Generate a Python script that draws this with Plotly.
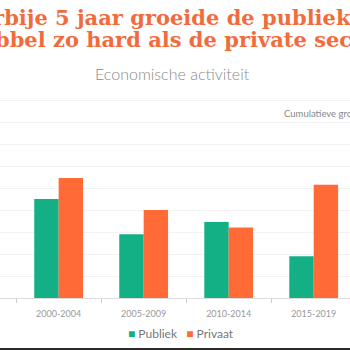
import plotly.graph_objects as go

periods = ["2000-2004", "2005-2009", "2010-2014", "2015-2019"]
publiek = [9.0, 5.8, 6.9, 3.8]
privaat = [10.9, 8.0, 6.4, 10.3]
series_names = ["Publiek", "Privaat"]

title_line1 = "De voorbije 5 jaar groeide de publieke sector"
title_line2 = "dubbel zo hard als de private sector"
subtitle = "Economische activiteit"
y_title = "Cumulatieve groei (%)"

GREEN = "#14b085"
ORANGE = "#ff6a36"
TITLE_ORANGE = "#f26b3c"

fig = go.Figure()
fig.add_trace(go.Bar(name=series_names[0], x=periods, y=publiek, marker=dict(color=GREEN, line=dict(width=0))))
fig.add_trace(go.Bar(name=series_names[1], x=periods, y=privaat, marker=dict(color=ORANGE, line=dict(width=0))))

H_PLOT = 208.0
def py(px):
    return (298 - px) / H_PLOT

legend_text = (
    f"<span style='color:{GREEN}'>■</span> {series_names[0]}"
    f"&nbsp;&nbsp;&nbsp;<span style='color:{ORANGE}'>■</span> {series_names[1]}"
)

fig.update_layout(
    width=350, height=350,
    margin=dict(l=0, r=0, t=90, b=52),
    paper_bgcolor="white", plot_bgcolor="white",
    barmode="group", bargap=0.426, bargroupgap=0,
    showlegend=False,
    xaxis=dict(type="category", range=[-0.69, 3.427], showgrid=False,
               ticks="outside", tickson="boundaries", ticklen=4, tickcolor="#cccccc",
               showline=True, linecolor="#dddddd", linewidth=1, ticklabelstandoff=7,
               tickfont=dict(family="Lato", size=9, color="#999999")),
    yaxis=dict(range=[0, H_PLOT / 11.0], dtick=2, showgrid=True, gridcolor="#f2f2f2",
               showticklabels=False, zeroline=False, fixedrange=True),
    annotations=[
        dict(text=title_line1, xref="paper", yref="paper", x=179 / 350, y=py(17.5), xanchor="center", yanchor="middle",
             showarrow=False, font=dict(family="DejaVu Serif", size=21, color=TITLE_ORANGE, weight="bold")),
        dict(text=title_line2, xref="paper", yref="paper", x=176 / 350, y=py(39), xanchor="center", yanchor="middle",
             showarrow=False, font=dict(family="DejaVu Serif", size=21, color=TITLE_ORANGE, weight="bold")),
        dict(text=subtitle, xref="paper", yref="paper", x=0.493, y=py(73), xanchor="center", yanchor="middle",
             showarrow=False, font=dict(family="Lato", size=16, color="#8a8a8a", weight=300)),
        dict(text=y_title, xref="paper", yref="paper", x=282 / 350, y=py(113), xanchor="left", yanchor="middle",
             showarrow=False, font=dict(family="Lato", size=9.5, color="#888888")),
        dict(text=legend_text, xref="paper", yref="paper", x=181 / 350, y=py(333), xanchor="center", yanchor="middle",
             showarrow=False, font=dict(family="Lato", size=12, color="#777777")),
    ],
    shapes=[
        dict(type="line", xref="paper", yref="paper", x0=-0.1, x1=1.1, y0=py(349), y1=py(349),
             line=dict(color="#2b2b2b", width=2)),
    ],
)

fig.write_html("out.html")
